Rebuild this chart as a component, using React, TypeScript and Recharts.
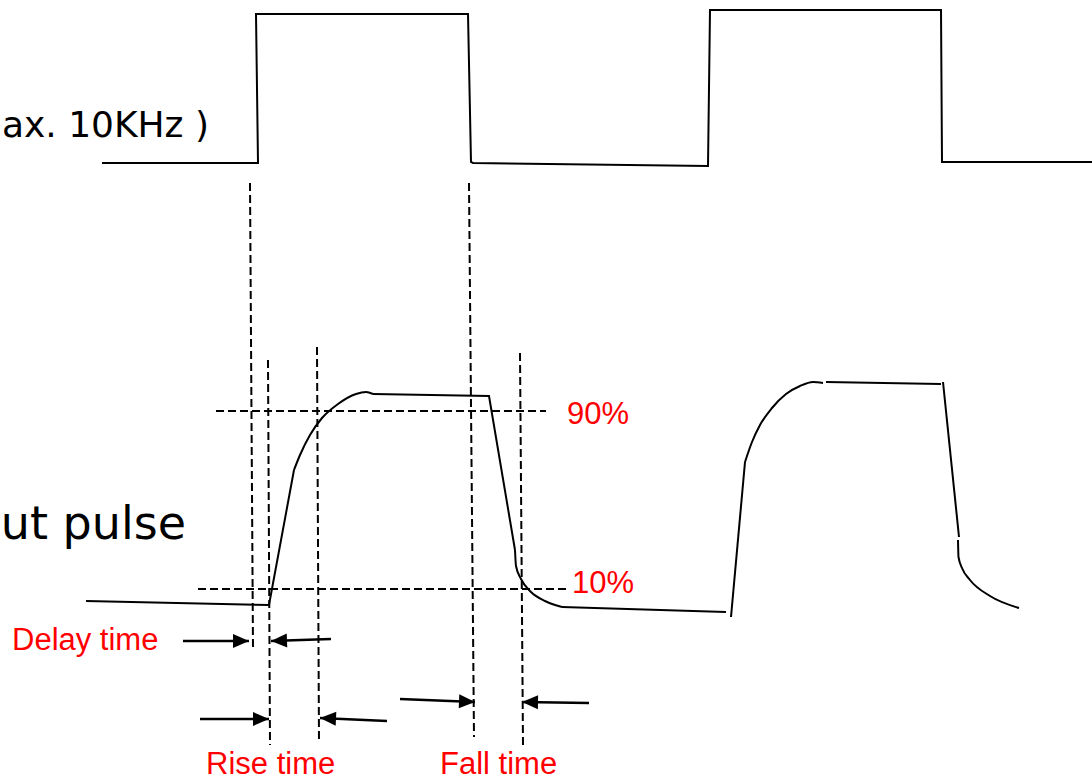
import React from 'react';
import { ComposedChart, Line, Scatter, XAxis, YAxis } from 'recharts';

const WIDTH = 1092;
const HEIGHT = 781;

// ---- Input pulse (top trace), diagram units: x = time, y = level (down = low) ----
const inputPulse = [
  { x: 102, y: 163 }, { x: 258, y: 163 }, { x: 256, y: 14 }, { x: 468, y: 14 },
  { x: 471, y: 162 }, { x: 473, y: 163 }, { x: 708, y: 166 }, { x: 710, y: 10 },
  { x: 941, y: 10 }, { x: 942, y: 162 }, { x: 1092, y: 162 },
];

// ---- Output pulse (bottom trace), split into straight and curved pieces ----
const outLow1 = [{ x: 86, y: 601 }, { x: 269, y: 605 }, { x: 294, y: 470 }];
const outRise1 = [
  { x: 294, y: 470 }, { x: 300, y: 455 }, { x: 310, y: 435 }, { x: 322, y: 418 },
  { x: 338, y: 404 }, { x: 356, y: 394 }, { x: 366, y: 392 }, { x: 373, y: 394 },
];
const outHigh1 = [{ x: 373, y: 394 }, { x: 489, y: 396 }, { x: 515, y: 550 }];
const outFall1 = [
  { x: 515, y: 550 }, { x: 516, y: 566 }, { x: 521, y: 579 }, { x: 531, y: 592 },
  { x: 545, y: 601 }, { x: 562, y: 607 },
];
const outLow2 = [{ x: 562, y: 607 }, { x: 726, y: 612 }];
const outEdge2 = [{ x: 731, y: 617 }, { x: 745, y: 462 }];
const outRise2 = [
  { x: 745, y: 462 }, { x: 752, y: 442 }, { x: 760, y: 425 }, { x: 772, y: 408 },
  { x: 786, y: 394 }, { x: 800, y: 386 }, { x: 813, y: 382 }, { x: 823, y: 383 },
];
const outHigh2 = [{ x: 826, y: 382 }, { x: 941, y: 384 }];
const outEdgeFall2 = [{ x: 943, y: 382 }, { x: 959, y: 537 }];
const outFall2 = [
  { x: 958, y: 540 }, { x: 958.5, y: 557 }, { x: 962, y: 568 }, { x: 970, y: 580 },
  { x: 990, y: 596 }, { x: 1019, y: 608 },
];

const straightPieces = [outLow1, outHigh1, outLow2, outEdge2, outHigh2, outEdgeFall2];
const curvedPieces = [outRise1, outFall1, outRise2, outFall2];

// ---- Dashed guide lines ----
const guideDelayStart = [{ x: 250, y: 183 }, { x: 253, y: 649 }];
const guideRiseStart = [{ x: 268, y: 360 }, { x: 270, y: 745 }];
const guideRiseEnd = [{ x: 317, y: 347 }, { x: 319, y: 742 }];
const guideFallStart = [{ x: 469, y: 183 }, { x: 474, y: 737 }];
const guideFallEnd = [{ x: 520, y: 353 }, { x: 523, y: 745 }];
const level90 = [{ x: 216, y: 411 }, { x: 546, y: 411 }];
const level10 = [{ x: 198, y: 589 }, { x: 570, y: 589 }];

const guides = [guideDelayStart, guideRiseStart, guideRiseEnd, guideFallStart, guideFallEnd, level90, level10];

// ---- Arrows (tail -> head) ----
const delayArrowIn = [{ x: 183, y: 641 }, { x: 249, y: 641 }];
const delayArrowOut = [{ x: 331, y: 639 }, { x: 271, y: 641 }];
const riseArrowIn = [{ x: 200, y: 719 }, { x: 269, y: 719 }];
const riseArrowOut = [{ x: 387, y: 721 }, { x: 320, y: 718 }];
const fallArrowIn = [{ x: 400, y: 699 }, { x: 475, y: 702 }];
const fallArrowOut = [{ x: 589, y: 703 }, { x: 522, y: 702 }];

const arrows = [delayArrowIn, delayArrowOut, riseArrowIn, riseArrowOut, fallArrowIn, fallArrowOut];

// ---- Text labels ----
const blackLabels = [
  { x: 209, y: 137, text: 'ax. 10KHz )', kind: 'big' },
  { x: 186, y: 539, text: 'ut pulse', kind: 'huge' },
];
const redLabels = [
  { x: 567, y: 424, text: '90%' },
  { x: 572, y: 593, text: '10%' },
  { x: 12, y: 650, text: 'Delay time' },
  { x: 206, y: 774, text: 'Rise time' },
  { x: 440, y: 774, text: 'Fall time' },
];

const blackFontSize: Record<string, number> = { big: 36, huge: 46 };

const makeArrowHead = (pts: { x: number; y: number }[]) => (props: any) => {
  const { cx, cy, index } = props;
  if (index !== pts.length - 1 || cx == null || cy == null) {
    return <g key={`n-${index}`} />;
  }
  const a = pts[0];
  const b = pts[pts.length - 1];
  const ang = Math.atan2(b.y - a.y, b.x - a.x);
  const len = 16;
  const half = 7;
  const bx = cx - len * Math.cos(ang);
  const by = cy - len * Math.sin(ang);
  const px = -Math.sin(ang) * half;
  const py = Math.cos(ang) * half;
  return (
    <polygon
      key={`h-${index}`}
      points={`${cx},${cy} ${bx + px},${by + py} ${bx - px},${by - py}`}
      fill="#000"
      stroke="none"
    />
  );
};

const BlackText = (props: any) => {
  const { cx, cy, payload } = props;
  return (
    <text
      x={cx}
      y={cy}
      textAnchor="end"
      fontFamily="DejaVu Sans, Verdana, sans-serif"
      fontSize={blackFontSize[payload.kind]}
      fill="#000"
    >
      {payload.text}
    </text>
  );
};

const RedText = (props: any) => {
  const { cx, cy, payload } = props;
  return (
    <text
      x={cx}
      y={cy}
      textAnchor="start"
      fontFamily="Liberation Sans, Arial, sans-serif"
      fontSize={31}
      fill="#ff0000"
    >
      {payload.text}
    </text>
  );
};

export default function App() {
  return (
    <div style={{ position: 'fixed', left: 0, top: 0, width: WIDTH, height: HEIGHT, background: '#fff' }}>
      <ComposedChart width={WIDTH} height={HEIGHT} margin={{ top: 0, right: 0, bottom: 0, left: 0 }}>
        <XAxis type="number" dataKey="x" domain={[0, WIDTH]} hide allowDataOverflow />
        <YAxis type="number" dataKey="y" domain={[0, HEIGHT]} reversed hide allowDataOverflow />

        {guides.map((g, i) => (
          <Line
            key={`g${i}`}
            data={g}
            dataKey="y"
            type="linear"
            stroke="#000"
            strokeWidth={2}
            strokeDasharray="8 4"
            dot={false}
            activeDot={false}
            isAnimationActive={false}
          />
        ))}

        <Line
          data={inputPulse}
          dataKey="y"
          type="linear"
          stroke="#000"
          strokeWidth={2}
          dot={false}
          activeDot={false}
          isAnimationActive={false}
        />

        {straightPieces.map((p, i) => (
          <Line
            key={`s${i}`}
            data={p}
            dataKey="y"
            type="linear"
            stroke="#000"
            strokeWidth={2}
            dot={false}
            activeDot={false}
            isAnimationActive={false}
          />
        ))}
        {curvedPieces.map((p, i) => (
          <Line
            key={`c${i}`}
            data={p}
            dataKey="y"
            type="monotone"
            stroke="#000"
            strokeWidth={2}
            dot={false}
            activeDot={false}
            isAnimationActive={false}
          />
        ))}

        {arrows.map((a, i) => (
          <Line
            key={`a${i}`}
            data={a}
            dataKey="y"
            type="linear"
            stroke="#000"
            strokeWidth={2.5}
            dot={makeArrowHead(a)}
            activeDot={false}
            isAnimationActive={false}
          />
        ))}

        <Scatter data={blackLabels} dataKey="y" shape={BlackText} isAnimationActive={false} />
        <Scatter data={redLabels} dataKey="y" shape={RedText} isAnimationActive={false} />
      </ComposedChart>
    </div>
  );
}
